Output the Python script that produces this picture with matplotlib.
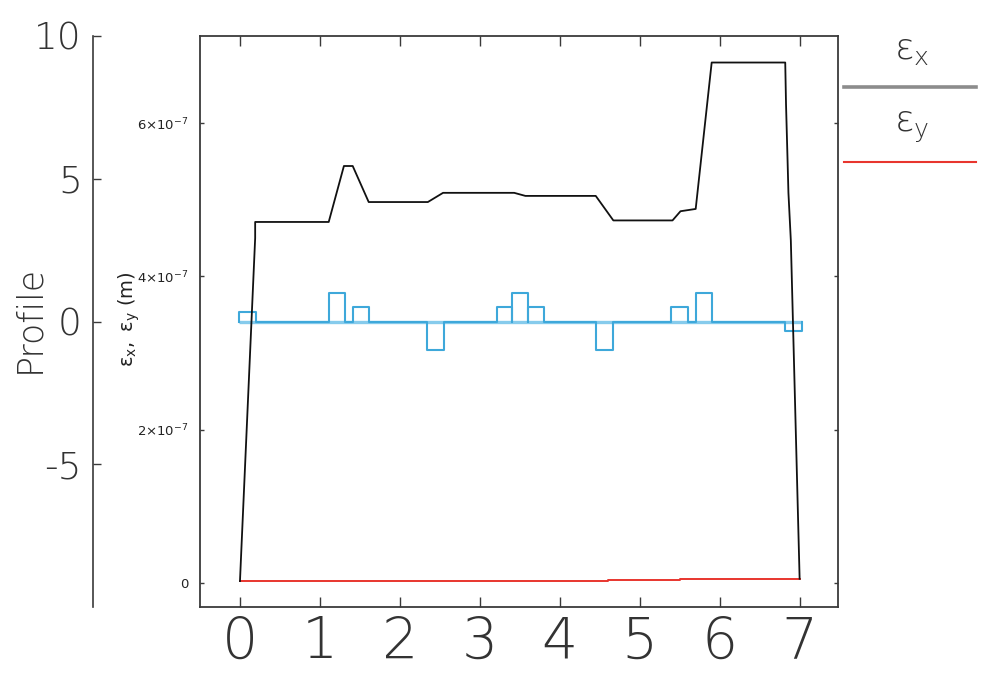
import numpy as np
import matplotlib
matplotlib.use("Agg")
import matplotlib.pyplot as plt
from matplotlib.lines import Line2D
from matplotlib.ticker import FuncFormatter

# emittance x (units of 1e-7 m) along s
ex_s = [0.0, 0.02, 0.19, 0.19, 1.11, 1.30, 1.41, 1.61, 2.35, 2.54, 3.43, 3.57,
        4.45, 4.67, 5.41, 5.51, 5.70, 5.90, 6.82, 6.83, 6.85, 6.86, 6.89, 7.00]
ex_val = [0.025, 0.5, 4.5, 4.71, 4.71, 5.44, 5.44, 4.97, 4.97, 5.09, 5.09, 5.05,
          5.05, 4.73, 4.73, 4.85, 4.88, 6.79, 6.79, 6.24, 5.48, 5.09, 4.47, 0.055]

# emittance y (units of 1e-7 m), piecewise constant
ey_edges = [0.0, 2.4, 3.6, 4.6, 5.5, 7.0]
ey_val = [0.025, 0.032, 0.030, 0.040, 0.055]

# lattice profile elements
elem_start = [-0.01, 1.11, 1.41, 2.34, 3.21, 3.40, 3.60, 4.45, 5.39, 5.70, 6.82]
elem_end = [0.20, 1.31, 1.61, 2.55, 3.40, 3.60, 3.80, 4.67, 5.60, 5.91, 7.03]
elem_height = [0.35, 1.0, 0.5, -1.0, 0.5, 1.0, 0.5, -1.0, 0.5, 1.0, -0.35]

s_ticks = [0, 1, 2, 3, 4, 5, 6, 7]
e_ticks = [0, 2, 4, 6]
prof_ticks = [10, 5, 0, -5]

thin = "DejaVu Sans"
frame_col = "#3a3a3a"
text_col = "#333333"

fig = plt.figure(figsize=(9.9, 6.73), dpi=100)
fig.patch.set_facecolor("white")
rect = [200 / 990, 1 - 607 / 673, 638 / 990, 571 / 673]

# profile axes (drawn underneath)
axp = fig.add_axes(rect)
axp.patch.set_visible(False)
for side in ["top", "right", "bottom"]:
    axp.spines[side].set_visible(False)
axp.spines["left"].set_position(("axes", (93 - 200) / 638))
axp.spines["left"].set_color(frame_col)
axp.spines["left"].set_linewidth(1.2)
axp.set_xlim(-0.5, 7.48)
axp.set_ylim(-10, 10)
axp.set_xticks([])
axp.set_yticks(prof_ticks)
axp.yaxis.set_major_formatter(FuncFormatter(lambda v, p: "%d" % v))
axp.tick_params(axis="y", direction="in", length=6, width=1, color=frame_col,
                pad=8, labelsize=27, labelcolor=text_col)
for lab in axp.get_yticklabels():
    lab.set_family(thin)
    lab.set_fontweight("light")
axp.set_ylabel("Profile", fontsize=25, family=thin, fontweight="light",
               color=text_col)
axp.yaxis.set_label_coords((46 - 200) / 638, 0.505)

px, py = [elem_start[0]], [0.0]
for a, b, h in zip(elem_start, elem_end, elem_height):
    px += [a, a, b, b]
    py += [0.0, h, h, 0.0]
px.append(elem_end[-1])
py.append(0.0)
axp.plot([elem_start[0], elem_end[-1]], [0, 0], color="#86cbec", lw=2.4,
         solid_capstyle="butt")
axp.plot(px, py, color="#3ea8da", lw=1.5)

# emittance axes on top
ax = fig.add_axes(rect)
ax.patch.set_visible(False)
ax.set_xlim(-0.5, 7.48)
ax.set_ylim(-0.313, 7.136)
for sp in ax.spines.values():
    sp.set_color(frame_col)
    sp.set_linewidth(1.3)

ey_y = ey_val + [ey_val[-1]]
ax.plot(ey_edges, ey_y, drawstyle="steps-post", color="#e8352e", lw=1.4)
ax.plot(ex_s, ex_val, color="#111111", lw=1.3)

ax.set_xticks(s_ticks)
ax.tick_params(axis="x", direction="in", length=7, width=1, color=frame_col,
               top=True, pad=6, labelsize=41, labelcolor=text_col)
for lab in ax.get_xticklabels():
    lab.set_family(thin)
    lab.set_fontweight("light")

ax.set_yticks(e_ticks)
ax.yaxis.set_major_formatter(FuncFormatter(
    lambda v, p: "0" if v == 0 else r"$\mathregular{%d{\times}10^{-7}}$" % v))
ax.tick_params(axis="y", direction="in", length=3, width=1, color=frame_col,
               right=True, pad=8, labelsize=9.5, labelcolor="#222222")
ax.set_ylabel(r"$\mathregular{ε_x,\ ε_y\ (m)}$", fontsize=14, color="#222222")
ax.yaxis.set_label_coords((142 - 200) / 638, 0.505)

# legend at right
fig.text(912 / 990, 1 - 50 / 673, r"$\mathregular{ε_x}$", fontsize=26,
         ha="center", va="center", color="#333333", fontweight="light")
fig.text(912 / 990, 1 - 127 / 673, r"$\mathregular{ε_y}$", fontsize=26,
         ha="center", va="center", color="#333333", fontweight="light")
fig.add_artist(Line2D([844 / 990, 976 / 990], [1 - 87 / 673, 1 - 87 / 673],
                      color="#8c8c8c", lw=2.6))
fig.add_artist(Line2D([844 / 990, 976 / 990], [1 - 162 / 673, 1 - 162 / 673],
                      color="#e8352e", lw=1.5))

fig.savefig("out.png", dpi=100)
